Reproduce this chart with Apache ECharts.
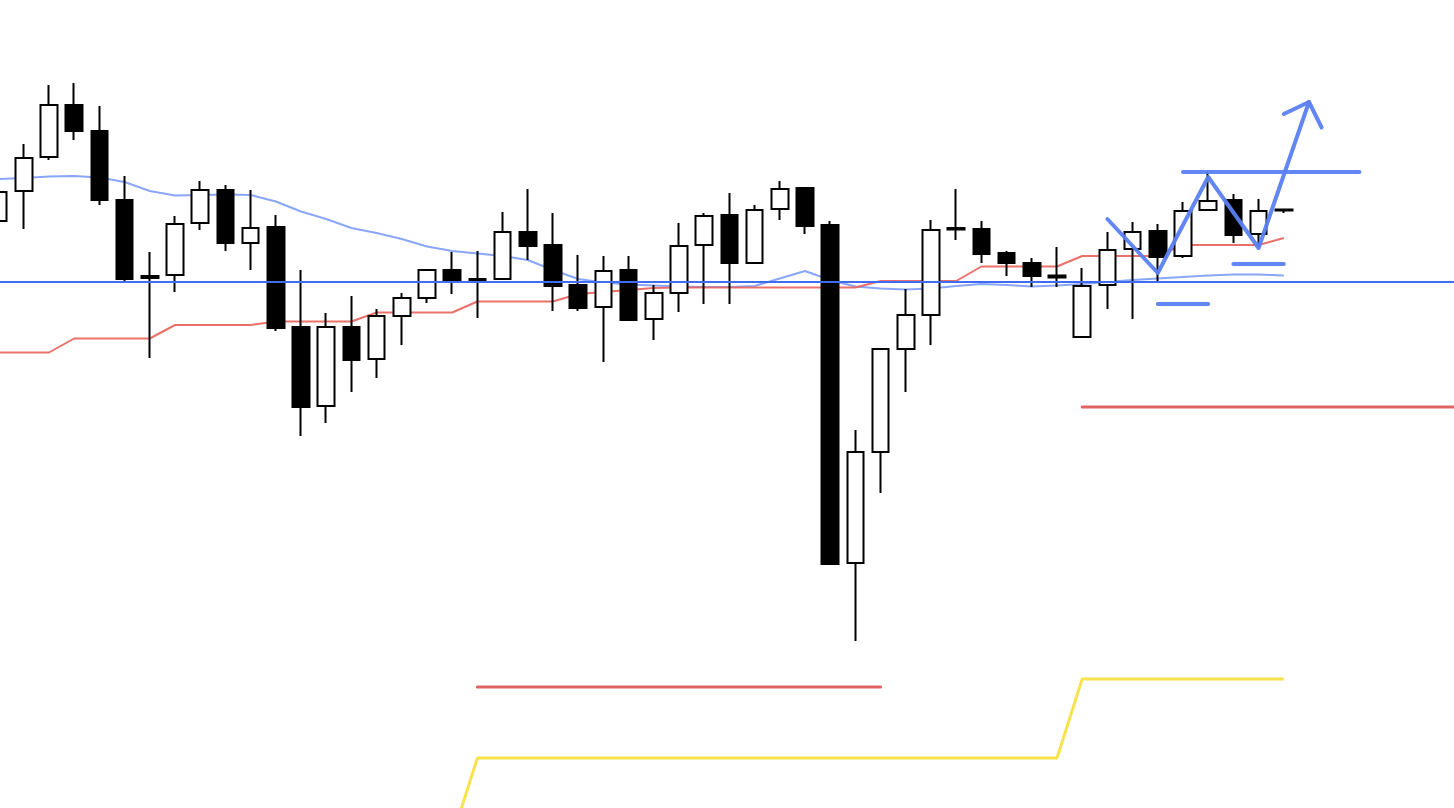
<!DOCTYPE html>
<html>
<head>
<meta charset="utf-8">
<script src="https://cdn.jsdelivr.net/npm/echarts@6/dist/echarts.min.js"></script>
<style>
html,body{margin:0;padding:0;background:#fff;}
#chart{width:1454px;height:808px;}
</style>
</head>
<body>
<div id="chart"></div>
<script>
// Categories (bars), 52 candles followed by empty right-hand space
const categories = ['1','2','3','4','5','6','7','8','9','10','11','12','13','14','15','16','17','18','19','20',
  '21','22','23','24','25','26','27','28','29','30','31','32','33','34','35','36','37','38','39','40',
  '41','42','43','44','45','46','47','48','49','50','51','52','53','54','55','56','57','58','59','60'];

// OHLC (price units)
const opens  = [587,617,651,703,677,608,532,533,585,618,565,581,481,402,481,449,492,510,538,529,
                529,576,563,523,501,538,489,515,563,593,545,599,620,583,245,356,459,493,580,579,
                555,545,532.5,471,523,559,577,552,598,608,574,598.5];
const closes = [616,650,703,677,608,529,530,584,618,565,580,480,401,481,448,492,510,538,527,527.5,
                576,562,522,500,537,488,515,562,592,545,598,619,582,244,356,459,493,578,578.5,554,
                545,532,530.5,522,558,576,551,597,607,573,597,597.5];
const lows   = [587,579,648,668,603,527,450,516,578,557,538,477,372,385,416,430,463,505,514,490,
                529,548,497,497,446,488,468,496,504,504,545,588,574,243,167,315,416,463,568,545,
                532,521,521,471,499,489,527,550,598,565,561,595];
const highs  = [616,664,723,725,702,632,556,592,627,623,618,593,538,495,512,499,515,538,556,557,
                596,619,595,553,552,552,523,585,595,615,603,627,621,587,378,460,519,588,619,587,
                557,550,561,540,576,586,584,606,637,614,609,599];

// Moving average (light blue)
const maLine = [629,630,631.5,632,630.5,626,617,612.5,613,613.5,613,606.5,596.5,589,580,575,569,561.5,557,554.5,
                552,548,538,529,525.5,523.5,522.5,521.5,521,521,522,529.5,537,528,521.5,519.5,518.5,519.5,522,524,
                523,521.5,522.5,524,526,528,529.5,531,532.5,533.5,533.5,532.5];

// Red step line
const redLine = [455.5,455.5,455.5,469.5,469.5,469.5,469.5,483,483,483,483,486.5,486.5,486.5,486.5,495.5,495.5,495.5,495.5,506.5,
                 506.5,506.5,506.5,514,516,518,520,520.5,520.5,520.5,520.5,520.5,520.5,520.5,520.5,527,527,527,527,541.5,
                 541.5,541.5,541.5,552,552,552,552,563,563,563,563,570];

// Yellow step line
const yellowLine = [null,null,null,null,null,null,null,null,null,null,null,null,null,null,null,null,null,null,-29,50,
                    50,50,50,50,50,50,50,50,50,50,50,50,50,50,50,50,50,50,50,50,
                    50,50,50,129,129,129,129,129,129,129,129,129];

// Horizontal levels [xStart, xEnd, price]
const blueLevel = [-0.5, 59.5, 526];
const redLevelUpper = [43, 59.5, 401];
const redLevelLower = [19, 35, 121];

// Drawn annotation (blue zigzag and arrow), points as [bar index, price]
const zigzag = [[44,589],[46,535],[48,631],[50,560],[52,706]];
const arrowHead = [[51,694],[52,706],[52.5,680.5]];
const resistance = [[47,636],[54,636]];
const shortLevelA = [[49,544],[51,544]];
const shortLevelB = [[46,504],[48,504]];

const candleData = opens.map((o, i) => [o, closes[i], lows[i], highs[i]]);

const chart = echarts.init(document.getElementById('chart'));
const annoStyle = {color: '#5a80f2', width: 4, cap: 'round', join: 'round', opacity: 0.95};
function seg(data, style, z) {
  return {type: 'line', xAxisIndex: 1, yAxisIndex: 0, data: data, symbol: 'none',
          lineStyle: style, z: z, silent: true, animation: false};
}
chart.setOption({
  animation: false,
  backgroundColor: '#ffffff',
  grid: {left: -14, width: 1512, top: 0, height: 808, containLabel: false, outerBoundsMode: 'none'},
  xAxis: [
    {type: 'category', data: categories, boundaryGap: true, show: false},
    {type: 'value', min: -0.5, max: 59.5, show: false}
  ],
  yAxis: [{type: 'value', min: 0, max: 808, show: false, splitLine: {show: false}}],
  series: [
    {type: 'line', xAxisIndex: 0, data: maLine, symbol: 'none', z: 1,
     lineStyle: {color: '#7d9cf8', width: 2, opacity: 0.9}},
    {type: 'line', xAxisIndex: 0, data: redLine, symbol: 'none', z: 1,
     lineStyle: {color: '#e8625a', width: 2, opacity: 0.9}},
    {type: 'line', xAxisIndex: 0, data: yellowLine, symbol: 'none', z: 1, connectNulls: false,
     lineStyle: {color: '#f7e44c', width: 3}},
    {type: 'candlestick', xAxisIndex: 0, data: candleData, barWidth: 17, z: 3,
     itemStyle: {color: '#ffffff', color0: '#000000', borderColor: '#000000', borderColor0: '#000000', borderWidth: 2}},
    seg([[blueLevel[0], blueLevel[2]], [blueLevel[1], blueLevel[2]]], {color: '#3f6cf2', width: 2}, 4),
    seg([[redLevelUpper[0], redLevelUpper[2]], [redLevelUpper[1], redLevelUpper[2]]], {color: '#e06464', width: 3, cap: 'round'}, 4),
    seg([[redLevelLower[0], redLevelLower[2]], [redLevelLower[1], redLevelLower[2]]], {color: '#e06464', width: 3, cap: 'round'}, 4),
    seg(zigzag, annoStyle, 5),
    seg(arrowHead, annoStyle, 5),
    seg(resistance, annoStyle, 5),
    seg(shortLevelA, annoStyle, 5),
    seg(shortLevelB, annoStyle, 5)
  ]
});
</script>
</body>
</html>
